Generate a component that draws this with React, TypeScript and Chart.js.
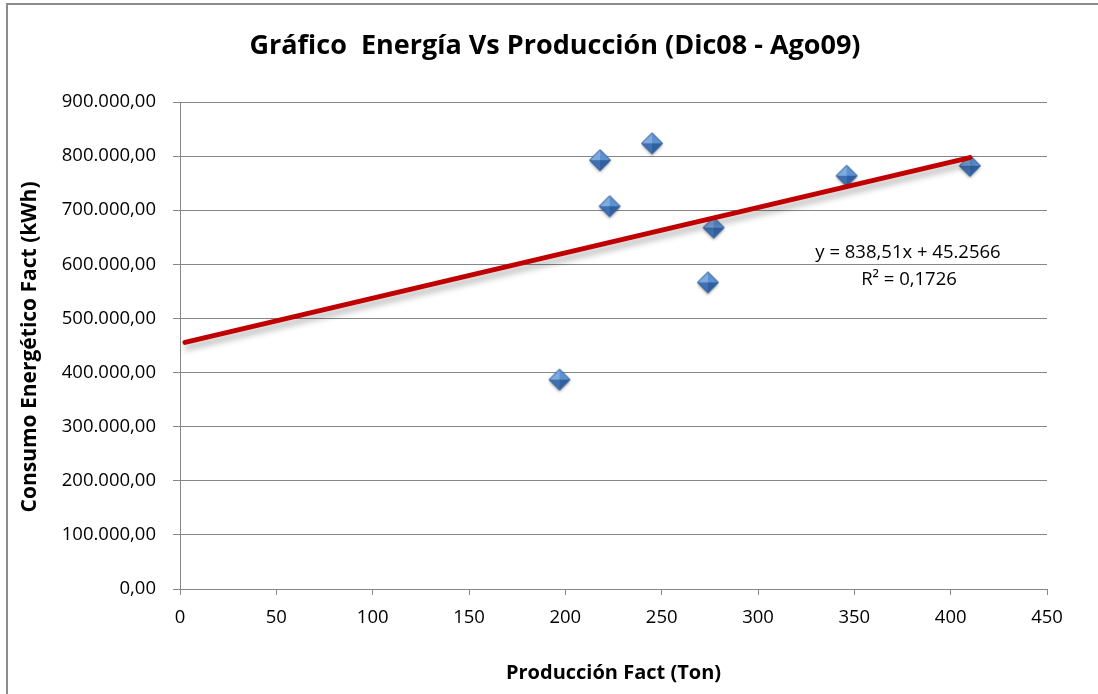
import { useEffect, useRef } from "react";
import { Chart, registerables } from "chart.js";

Chart.register(...registerables);

// Monthly production (Ton) vs. billed energy consumption (kWh)
const produccion = [197, 218, 223, 245, 274, 277, 346, 410];
const consumo = [385200, 790700, 705600, 821700, 564800, 666000, 761900, 780400];

// Linear trendline as reported by the fit
const trendSlope = 838.51;
const trendIntercept = 453500;
const trendFrom = 2.6;
const trendTo = 410;

const xTicks = [0, 50, 100, 150, 200, 250, 300, 350, 400, 450];
const yTicks = [0, 100000, 200000, 300000, 400000, 500000, 600000, 700000, 800000, 900000];

const chartTitle = "Gráfico  Energía Vs Producción (Dic08 - Ago09)";
const xTitle = "Producción Fact (Ton)";
const yTitle = "Consumo Energético Fact (kWh)";
const trendLabels = ["y = 838,51x + 45.2566", "R² = 0,1726"];

const FONT = "'Open Sans', 'Noto Sans', sans-serif";
const GRID = "#868686";

function formatEs(v: number): string {
  const [int, dec] = v.toFixed(2).split(".");
  const grouped = int.replace(/\B(?=(\d{3})+(?!\d))/g, ".");
  return grouped + "," + dec;
}

function makeDiamond(): HTMLCanvasElement {
  const c = document.createElement("canvas");
  c.width = 30;
  c.height = 30;
  const g = c.getContext("2d")!;
  const cx = 15, cy = 14, r = 10.5;
  const top = [cx, cy - r], right = [cx + r, cy], bottom = [cx, cy + r], left = [cx - r, cy];
  const path = (pts: number[][]) => {
    g.beginPath();
    g.moveTo(pts[0][0], pts[0][1]);
    for (let i = 1; i < pts.length; i++) g.lineTo(pts[i][0], pts[i][1]);
    g.closePath();
  };
  g.save();
  g.shadowColor = "rgba(0,0,0,0.35)";
  g.shadowBlur = 3;
  g.shadowOffsetY = 2;
  path([top, right, bottom, left]);
  g.fillStyle = "#4a7cbc";
  g.fill();
  g.restore();
  const center = [cx, cy];
  const facets: [number[][], string][] = [
    [[top, left, center], "#7eaae0"],
    [[top, right, center], "#5e91d2"],
    [[left, bottom, center], "#3f70b2"],
    [[right, bottom, center], "#30609f"],
  ];
  for (const [pts, col] of facets) {
    path(pts);
    g.fillStyle = col;
    g.fill();
  }
  path([top, right, bottom, left]);
  g.strokeStyle = "#2a5590";
  g.lineWidth = 1;
  g.stroke();
  return c;
}

export default function App() {
  const ref = useRef<HTMLCanvasElement>(null);

  useEffect(() => {
    if (!ref.current) return;
    const marker = makeDiamond();
    const points = produccion.map((x, i) => ({ x, y: consumo[i] }));
    const trend = [trendFrom, trendTo].map((x) => ({ x, y: trendSlope * x + trendIntercept }));

    const decor = {
      id: "decor",
      beforeDraw(chart: any) {
        const ctx = chart.ctx;
        ctx.save();
        ctx.fillStyle = "#ffffff";
        ctx.fillRect(0, 0, chart.width, chart.height);
        ctx.strokeStyle = "#8c8c8c";
        ctx.lineWidth = 2;
        ctx.beginPath();
        ctx.moveTo(7, chart.height);
        ctx.lineTo(7, 4);
        ctx.lineTo(chart.width, 4);
        ctx.stroke();
        ctx.restore();
      },
      beforeDatasetDraw(chart: any, args: any) {
        if (args.index === 1) {
          const ctx = chart.ctx;
          ctx.save();
          ctx.shadowColor = "rgba(0,0,0,0.3)";
          ctx.shadowBlur = 6;
          ctx.shadowOffsetX = 2;
          ctx.shadowOffsetY = 5;
        }
      },
      afterDatasetDraw(chart: any, args: any) {
        if (args.index === 1) chart.ctx.restore();
      },
      afterDraw(chart: any) {
        const ctx = chart.ctx;
        const xs = chart.scales.x;
        ctx.save();
        ctx.fillStyle = "#000000";
        ctx.textAlign = "center";
        ctx.textBaseline = "middle";
        ctx.font = `bold 27px ${FONT}`;
        ctx.fillText(chartTitle, 555, 46);
        ctx.font = `bold 20px ${FONT}`;
        ctx.fillText(xTitle, (xs.left + xs.right) / 2, 673);
        ctx.save();
        ctx.translate(30, 347);
        ctx.rotate(-Math.PI / 2);
        ctx.font = `bold 21px ${FONT}`;
        ctx.fillText(yTitle, 0, 0);
        ctx.restore();
        ctx.font = `18.5px ${FONT}`;
        ctx.fillText(trendLabels[0], 908, 253);
        ctx.fillText(trendLabels[1], 909, 280);
        ctx.restore();
      },
    };

    const chart = new Chart(ref.current, {
      type: "scatter",
      data: {
        datasets: [
          {
            label: "Consumo",
            data: points,
            pointStyle: marker as any,
            pointRadius: 10,
            order: 1,
          },
          {
            label: "Lineal",
            data: trend,
            type: "line",
            showLine: true,
            borderColor: "#c00000",
            borderWidth: 5,
            pointRadius: 0,
            borderCapStyle: "round",
            order: 0,
          } as any,
        ],
      },
      options: {
        responsive: false,
        animation: false,
        layout: { padding: { top: 102, right: 51, bottom: 0, left: 0 } },
        plugins: { legend: { display: false }, tooltip: { enabled: false }, title: { display: false } },
        scales: {
          x: {
            type: "linear",
            min: 0,
            max: 450,
            afterBuildTicks: (s: any) => {
              s.ticks = xTicks.map((v) => ({ value: v }));
            },
            afterFit: (s: any) => {
              s.height = 105;
            },
            ticks: { color: "#000", font: { family: FONT, size: 18.5 }, padding: 12, maxRotation: 0 },
            grid: { drawOnChartArea: false, drawTicks: true, tickLength: 6, color: GRID },
            border: { color: GRID, width: 1 },
          },
          y: {
            type: "linear",
            min: 0,
            max: 900000,
            afterBuildTicks: (s: any) => {
              s.ticks = yTicks.map((v) => ({ value: v }));
            },
            afterFit: (s: any) => {
              s.width = 180;
            },
            ticks: {
              color: "#000",
              font: { family: FONT, size: 18.5 },
              padding: 17,
              callback: (v: any) => formatEs(Number(v)),
            },
            grid: { color: GRID, tickLength: 7, lineWidth: 1 },
            border: { color: GRID, width: 1 },
          },
        },
      },
      plugins: [decor],
    });
    return () => chart.destroy();
  }, []);

  return (
    <div style={{ position: "absolute", left: 0, top: 0, width: 1098, height: 694 }}>
      <canvas ref={ref} width={1098} height={694} />
    </div>
  );
}
